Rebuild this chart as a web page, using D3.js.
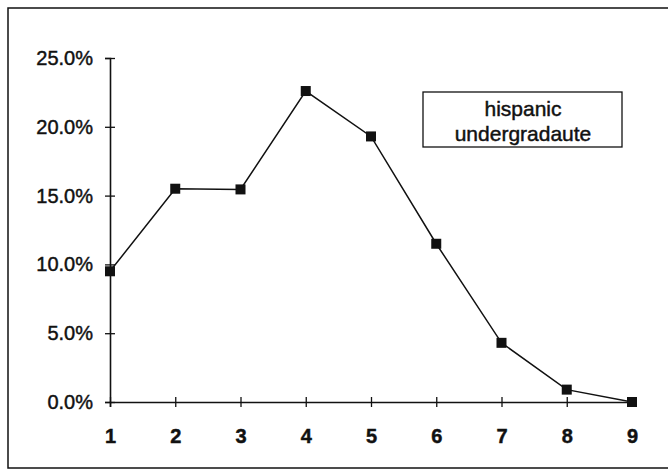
<!DOCTYPE html>
<meta charset="utf-8">
<html>
<head>
<script src="https://d3js.org/d3.v7.min.js"></script>
<style>
  body { margin: 0; background: #fff; }
  text { font-family: "Liberation Sans", Arial, sans-serif; fill: #111; stroke: #111; stroke-width: 0.45px; }
</style>
</head>
<body>
<div id="my_dataviz"></div>
<script>
    // data
    const categories = [1, 2, 3, 4, 5, 6, 7, 8, 9];
    const values = [0.095, 0.155, 0.1545, 0.226, 0.193, 0.115, 0.043, 0.009, 0.0];
    const yTicks = [0, 0.05, 0.10, 0.15, 0.20, 0.25];
    const seriesName = ["hispanic", "undergradaute"];

    const W = 668, H = 476;
    const svg = d3.select("#my_dataviz")
      .append("svg")
        .attr("width", W)
        .attr("height", H);

    // outer frame
    svg.append("rect")
      .attr("x", 8).attr("y", 8)
      .attr("width", 680).attr("height", 460)
      .attr("fill", "none")
      .attr("stroke", "#111")
      .attr("stroke-width", 1.5);

    const x = d3.scaleLinear().domain([1, 9]).range([110, 632]);
    const y = d3.scaleLinear().domain([0, 0.25]).range([402, 58]);

    // Y axis
    const yAxis = svg.append("g")
      .attr("transform", "translate(110,0)")
      .call(d3.axisLeft(y).tickValues(yTicks).tickFormat(d3.format(".1%")).tickSize(5).tickPadding(12));
    yAxis.select(".domain").attr("stroke", "#111").attr("stroke-width", 1.6);
    yAxis.selectAll(".tick line").attr("x1", 5).attr("stroke", "#111").attr("stroke-width", 1.3);
    yAxis.selectAll(".tick text").style("font-size", "20px").attr("fill", "#111");

    // X axis
    const xAxis = svg.append("g")
      .attr("transform", "translate(0,402)")
      .call(d3.axisBottom(x).tickValues(categories).tickFormat(d3.format("d")).tickSize(5).tickPadding(22));
    xAxis.select(".domain").attr("stroke", "#111").attr("stroke-width", 1.6);
    xAxis.selectAll(".tick line").attr("y1", -5).attr("stroke", "#111").attr("stroke-width", 1.3);
    xAxis.selectAll(".tick text").style("font-size", "20px").style("font-weight", "bold").attr("fill", "#111");

    // line
    svg.append("path")
      .datum(values)
      .attr("fill", "none")
      .attr("stroke", "#111")
      .attr("stroke-width", 1.5)
      .attr("d", d3.line()
        .x((d, i) => x(categories[i]))
        .y(d => y(d)));

    // markers
    svg.append("g")
      .selectAll("rect")
      .data(values)
      .join("rect")
        .attr("x", (d, i) => x(categories[i]) - 5)
        .attr("y", d => y(d) - 5)
        .attr("width", 10)
        .attr("height", 10)
        .attr("fill", "#111");

    // legend box
    svg.append("rect")
      .attr("x", 423).attr("y", 92)
      .attr("width", 199).attr("height", 55)
      .attr("fill", "#fff")
      .attr("stroke", "#111")
      .attr("stroke-width", 1.3);
    svg.append("g")
      .selectAll("text")
      .data(seriesName)
      .join("text")
        .attr("x", 523)
        .attr("y", (d, i) => 116 + i * 25)
        .attr("text-anchor", "middle")
        .style("font-size", "21px")
        .text(d => d);
</script>
</body>
</html>
